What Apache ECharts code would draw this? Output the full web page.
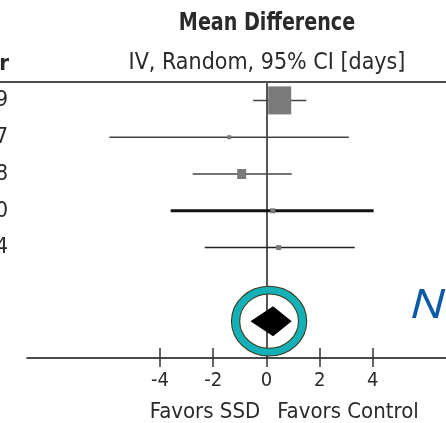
<!DOCTYPE html>
<html>
<head>
<meta charset="utf-8">
<script src="https://cdn.jsdelivr.net/npm/echarts@6/dist/echarts.min.js"></script>
<style>html,body{margin:0;padding:0;background:#fff}#c{width:446px;height:423px}</style>
</head>
<body>
<div id="c"></div>
<script>
// ---- data ----
const rowLabels = ['9', '7', '8', '0', '4'];          // visible (cut-off) ends of study labels
const rowIndex = [0, 1, 2, 3, 4];
const means   = [0.5, -1.4, -0.93, 0.24, 0.46];
const ciLow   = [-0.5, -5.9, -2.77, -3.6, -2.32];
const ciHigh  = [1.5, 3.1, 0.95, 4.03, 3.32];
const pooled  = { low: -0.6, mean: 0.25, high: 0.95, row: 6 };
const highlight = [0.1, 6];
const tickValues = [-4, -2, 0, 2, 4];
const tickLabels = ['-4', '-2', '0', '2', '4'];

// ---- styles (not data) ----
const markerSizes = [[23, 28], [4, 4], [9, 10], [5, 5], [5, 5]];
const ciWidths = [1.5, 1.5, 1.5, 3, 1.5];
const ciColors = ['#444', '#444', '#444', '#111', '#222'];
const markerColor = '#7a7a7a';
const TXT = '#2a2a2a';
const FONT = '"Liberation Sans Narrow", "DejaVu Sans Condensed", "Open Sans", sans-serif';

const chart = echarts.init(document.getElementById('c'), null, { renderer: 'canvas' });

const ciData = rowIndex.map((r, i) => [ciLow[i], ciHigh[i], r]);
const markerData = rowIndex.map((r, i) => ({ value: [means[i], r], symbolSize: markerSizes[i] }));

const option = {
  backgroundColor: '#fff',
  animation: false,
  grid: { left: 27, right: 0, top: 82, bottom: 65, containLabel: false, outerBoundsMode: 'none' },
  xAxis: [
    {
      type: 'value', min: -9, max: 6.75, position: 'bottom',
      axisLine: { show: true, onZero: false, lineStyle: { color: '#111', width: 1.5 } },
      axisTick: { show: true, customValues: tickValues, length: 9, lineStyle: { color: '#333', width: 1.5 } },
      axisLabel: {
        show: true, customValues: tickValues, margin: 13,
        formatter: v => tickLabels[tickValues.indexOf(v)],
        fontFamily: FONT, fontSize: 20, color: TXT
      },
      splitLine: { show: false }
    },
    {
      type: 'value', min: -9, max: 6.75, position: 'bottom',
      axisLine: { show: false, onZero: false },
      axisTick: { show: true, inside: true, customValues: tickValues, length: 10, lineStyle: { color: '#333', width: 1.5 } },
      axisLabel: { show: false },
      splitLine: { show: false }
    }
  ],
  yAxis: [
    {
      type: 'value', min: -0.5, max: 7, inverse: true,
      axisLine: { show: true, onZero: true, lineStyle: { color: '#555', width: 2 } },
      axisTick: { show: false }, axisLabel: { show: false }, splitLine: { show: false }
    },
    {
      type: 'value', min: -0.5, max: 7, inverse: true, position: 'left',
      axisLine: { show: false, onZero: false },
      axisTick: { show: false },
      axisLabel: {
        show: true, customValues: rowIndex, margin: 19,
        formatter: v => rowLabels[v],
        fontFamily: FONT, fontSize: 22, color: TXT
      },
      splitLine: { show: false }
    }
  ],
  series: [
    {
      type: 'custom', data: ciData, z: 3,
      renderItem: (params, api) => {
        const i = params.dataIndex;
        const p1 = api.coord([api.value(0), api.value(2)]);
        const p2 = api.coord([api.value(1), api.value(2)]);
        return { type: 'line', shape: { x1: p1[0], y1: p1[1], x2: p2[0], y2: p2[1] },
          style: { stroke: ciColors[i], lineWidth: ciWidths[i] } };
      }
    },
    {
      type: 'scatter', symbol: 'rect', data: markerData, z: 4,
      itemStyle: { color: markerColor, opacity: 1 }
    },
    {
      type: 'custom', data: [[pooled.low, pooled.mean, pooled.high, pooled.row]], z: 5,
      renderItem: (params, api) => {
        const r = api.value(3);
        const a = api.coord([api.value(0), r]);
        const m = api.coord([api.value(1), r]);
        const b = api.coord([api.value(2), r]);
        const h = 15;
        return { type: 'polygon', shape: { points: [[a[0], a[1]], [m[0], m[1] - h], [b[0], b[1]], [m[0], m[1] + h]] },
          style: { fill: '#000' } };
      }
    },
    {
      type: 'scatter', symbol: 'circle', data: [highlight], symbolSize: [67, 62], z: 6,
      itemStyle: { color: 'rgba(0,0,0,0)', borderColor: '#3f3516', borderWidth: 9, opacity: 1 }
    },
    {
      type: 'scatter', symbol: 'circle', data: [highlight], symbolSize: [67, 62], z: 7,
      itemStyle: { color: 'rgba(0,0,0,0)', borderColor: '#14b0b8', borderWidth: 7, opacity: 1 }
    }
  ],
  graphic: [
    { type: 'line', shape: { x1: 0, y1: 82, x2: 446, y2: 82 }, style: { stroke: '#111', lineWidth: 1.5 } },
    { type: 'text', x: 267, y: 24, scaleX: 0.885, style: { text: 'Mean Difference', fontFamily: FONT, fontWeight: 'bold', fontSize: 24, fill: TXT, align: 'center', verticalAlign: 'middle' } },
    { type: 'text', x: 267, y: 63, style: { text: 'IV, Random, 95% CI [days]', fontFamily: FONT, fontSize: 23, fill: TXT, align: 'center', verticalAlign: 'middle' } },
    { type: 'text', x: 9, y: 64, style: { text: 'r', fontFamily: FONT, fontWeight: 'bold', fontSize: 22, fill: TXT, align: 'right', verticalAlign: 'middle' } },
    { type: 'text', x: 205, y: 412, style: { text: 'Favors SSD', fontFamily: FONT, fontSize: 22, fill: TXT, align: 'center', verticalAlign: 'middle' } },
    { type: 'text', x: 348, y: 412, style: { text: 'Favors Control', fontFamily: FONT, fontSize: 22, fill: TXT, align: 'center', verticalAlign: 'middle' } },
    { type: 'text', x: 410, y: 306, scaleX: 1.22, style: { text: 'N', fontFamily: '"Open Sans", "Liberation Sans", sans-serif', fontStyle: 'italic', fontSize: 41, fill: '#0d5aa7', align: 'left', verticalAlign: 'middle' } }
  ]
};
chart.setOption(option);
</script>
</body>
</html>
